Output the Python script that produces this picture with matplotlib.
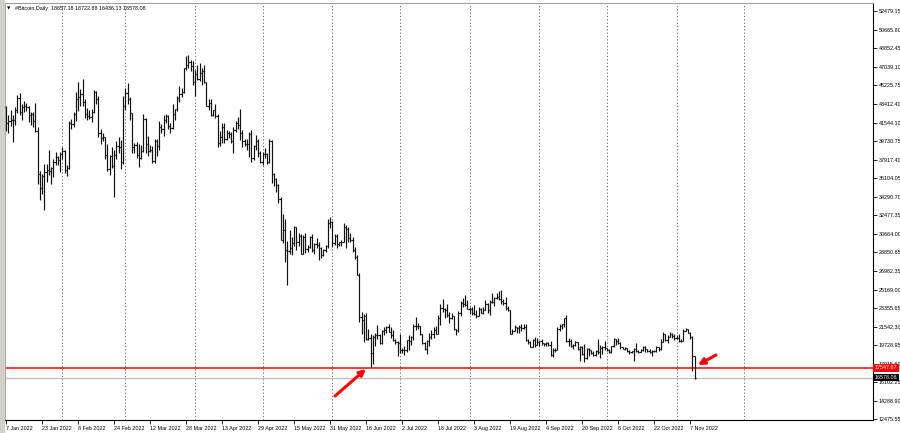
import matplotlib.pyplot as plt
import numpy as np
import pandas as pd
from matplotlib.patches import Rectangle

# daily OHLC, 7 Jan 2022 .. 9 Nov 2022 (one row of each list per month)
opens = [
    43100, 41550, 41700, 41850, 41820, 42740, 43920, 42590, 43100, 43180, 43100, 42250, 42370, 41670, 40700, 36470, 35100, 36280, 36700, 36950, 36850, 37140, 37700, 38150, 37900,
    38480, 38740, 36950, 37150, 41550, 41400, 42400, 43840, 44100, 44350, 43550, 42400, 42200, 42050, 42550, 44550, 43900, 40550, 40000, 40100, 38400, 37050, 38300, 37300, 38350, 39250, 39150, 37700,
    43200, 44400, 43900, 42450, 39150, 39400, 38400, 38050, 38750, 41950, 39450, 38800, 38900, 37800, 39700, 39300, 41150, 40950, 41800, 42200, 41250, 41000, 42400, 42900, 44000, 44350, 44550, 46850, 47150, 47450, 47100,
    45500, 46300, 45850, 46450, 46600, 45500, 43200, 43450, 42300, 42750, 42200, 39550, 40100, 41150, 39950, 40550, 40400, 39700, 40800, 41500, 41350, 40500, 39700, 39450, 39450, 40450, 38100, 39250, 39750, 38600,
    37650, 38450, 38500, 37700, 39700, 36550, 36000, 35450, 34050, 30100, 31000, 29050, 28950, 29300, 29800, 31300, 29850, 30400, 28700, 30300, 29200, 29400, 30300, 29100, 29650, 29550, 29250, 28600, 29050, 29450, 31700,
    31800, 29800, 30450, 29700, 29850, 29900, 31350, 31150, 30200, 30100, 29100, 28400, 26600, 22500, 22200, 22600, 20400, 20500, 19000, 20550, 20700, 20700, 19950, 21100, 21250, 21500, 21050, 20700, 20250, 20100,
    19950, 19250, 19250, 19300, 20250, 20200, 20550, 21600, 21600, 21600, 20850, 19950, 19350, 20200, 20600, 20850, 21200, 20800, 22450, 23400, 23250, 23150, 22700, 22450, 22600, 21300, 21250, 22950, 23850, 23800, 23650,
    23300, 23300, 22950, 22850, 22600, 23300, 22950, 23200, 23800, 23150, 23950, 23950, 24400, 24450, 24300, 24100, 23850, 23350, 23200, 20850, 21150, 21500, 21400, 21550, 21400, 21550, 20250, 20050, 19600, 20300, 19800,
    20050, 20150, 19950, 19850, 19950, 19800, 18800, 19300, 19300, 21350, 21650, 21800, 22400, 20200, 20200, 19700, 19800, 20100, 19400, 19550, 18900, 18500, 19400, 19300, 18950, 18800, 19200, 19100, 19450, 19550,
    19450, 19300, 19050, 19650, 20350, 20150, 19950, 19550, 19400, 19450, 19150, 19050, 19150, 19400, 19200, 19050, 19250, 19550, 19350, 19150, 19050, 19200, 19200, 19550, 19350, 20100, 20800, 20300, 20600, 20800, 20650,
    20500, 20500, 20150, 20200, 21150, 21300, 20900, 20600, 18657.18,
]
highs = [
    43150, 42300, 42800, 42250, 43100, 44300, 44400, 43400, 43700, 43500, 43200, 42600, 42600, 43500, 41100, 36800, 36500, 37500, 37500, 38900, 37200, 38000, 38700, 38300, 38700,
    39200, 38850, 37400, 41700, 41900, 42600, 44500, 45500, 44800, 45850, 43900, 43000, 42800, 42900, 44700, 44600, 44200, 40950, 40500, 40150, 39500, 38400, 39200, 38900, 39700, 40100, 39800, 44200,
    44900, 45400, 44100, 42500, 39600, 39650, 39500, 39400, 42400, 42000, 40200, 39400, 39300, 39900, 39900, 41700, 41400, 42300, 42400, 42300, 41500, 43400, 42900, 44200, 45100, 44900, 46900, 48100, 48200, 47700, 47600,
    46700, 47200, 47400, 46900, 47200, 45500, 43900, 43900, 42800, 43400, 42400, 40700, 41500, 41500, 40850, 40700, 40600, 41100, 41700, 42100, 42900, 40800, 39900, 39900, 40600, 40800, 39400, 40300, 39900, 38800,
    38700, 39100, 38600, 39900, 39800, 36650, 36100, 35500, 34250, 32600, 32100, 30000, 31000, 30300, 31400, 31300, 30700, 30600, 30500, 30700, 29600, 30400, 30600, 29800, 30200, 29850, 29400, 29200, 29600, 32100, 32300,
    31900, 30600, 30600, 29900, 30100, 31700, 31500, 31300, 30700, 30300, 29400, 28600, 26800, 23000, 22800, 22900, 21300, 20800, 20700, 20900, 21700, 20850, 21200, 21500, 21600, 21800, 21500, 21200, 20400, 20150,
    20850, 19450, 19650, 20300, 20700, 20650, 21800, 22500, 21950, 21600, 20850, 20050, 20250, 20900, 21200, 21550, 21650, 22700, 23750, 24250, 23400, 23750, 23000, 22950, 22650, 21300, 23100, 24100, 24400, 24650, 24150,
    23500, 23450, 23650, 23200, 23450, 23350, 23450, 24200, 23900, 24200, 24900, 24450, 24900, 25050, 25200, 24250, 24450, 23600, 23200, 21350, 21700, 21550, 21700, 21800, 21800, 21850, 20350, 20150, 20350, 20550, 20450,
    20200, 20400, 20000, 20050, 20050, 20150, 19450, 19450, 21550, 21800, 21800, 22450, 22700, 20500, 20350, 19900, 20200, 20100, 19650, 19650, 19900, 19500, 19450, 19300, 19150, 19300, 20350, 19750, 19650, 20150,
    19500, 19400, 19700, 20450, 20350, 20450, 20050, 19600, 19550, 19500, 19250, 19200, 19500, 19950, 19250, 19400, 19650, 19700, 19350, 19350, 19250, 19250, 19700, 19600, 20400, 21000, 20850, 20750, 21050, 20900, 20850,
    20700, 20800, 20400, 21300, 21450, 21350, 21000, 20650, 18722.88,
]
lows = [
    40700, 40500, 41250, 39650, 41300, 42500, 42300, 41800, 42600, 42700, 41600, 41300, 41100, 40600, 35500, 34000, 34600, 32950, 35700, 36400, 35500, 36200, 37400, 37400, 36700,
    38000, 36600, 36300, 37000, 40900, 41100, 41700, 42700, 43200, 43200, 42000, 41800, 41900, 41600, 42450, 43400, 40100, 39500, 39700, 38000, 36800, 36400, 37100, 34300, 38000, 38600, 37000, 37500,
    42800, 43400, 41800, 38600, 38600, 38100, 37200, 38000, 38700, 38600, 38300, 38700, 37600, 37600, 38300, 38900, 40500, 40200, 41500, 40900, 40500, 40900, 41800, 42700, 43600, 44100, 44400, 46700, 46900, 46600, 45200,
    44200, 45700, 45600, 45200, 45400, 43200, 42800, 42200, 42200, 42000, 39200, 39300, 39600, 39600, 39800, 40000, 39600, 38600, 40600, 40900, 39800, 39200, 39300, 38900, 38200, 37700, 37900, 38900, 38200, 37600,
    37400, 38100, 37500, 37600, 35600, 35300, 34800, 33700, 30100, 29800, 27900, 25600, 28700, 28600, 29500, 29100, 29500, 28700, 28700, 28800, 28900, 29300, 28900, 28700, 29300, 28100, 28300, 28500, 28900, 29300, 31200,
    29400, 29600, 29300, 29500, 29500, 29900, 29300, 29900, 29900, 28900, 28200, 26600, 22000, 20800, 20100, 20250, 20300, 17580, 17950, 19700, 20400, 19900, 19900, 20700, 20900, 21000, 20500, 20200, 19850, 18650,
    18950, 18950, 18800, 19050, 19300, 19800, 20250, 21200, 21350, 20700, 19900, 19250, 18900, 19650, 20400, 20500, 20800, 20800, 21700, 23000, 22400, 22500, 21950, 22300, 21250, 20750, 21050, 22600, 23450, 23550, 23250,
    22850, 22700, 22700, 22450, 22600, 22950, 22850, 23150, 22900, 22700, 23900, 23600, 24300, 24150, 23800, 23700, 23200, 23100, 20800, 20800, 21100, 20900, 20900, 21100, 21300, 20150, 19900, 19600, 19550, 19600, 19800,
    19650, 19800, 19700, 19650, 19650, 18650, 18550, 19050, 19300, 21100, 21350, 21550, 20100, 19650, 19550, 19350, 19700, 19300, 18250, 18800, 18150, 18400, 18650, 18850, 18650, 18700, 18850, 18500, 18900, 19250,
    19200, 18950, 19000, 19550, 19800, 19900, 19350, 19350, 19300, 19050, 18900, 18950, 18200, 19100, 18950, 19050, 19150, 19100, 19050, 18950, 18700, 19100, 19100, 19200, 19250, 20050, 20200, 20000, 20550, 20500, 20250,
    20350, 20050, 20050, 20200, 21100, 20900, 20400, 17200, 16436.13,
]
closes = [
    41550, 41700, 41850, 41820, 42740, 43920, 42590, 43100, 43180, 43100, 42250, 42370, 41670, 40700, 36470, 35100, 36280, 36700, 36950, 36850, 37140, 37700, 38150, 37900, 38480,
    38740, 36950, 37150, 41550, 41400, 42400, 43840, 44100, 44350, 43550, 42400, 42200, 42050, 42550, 44550, 43900, 40550, 40000, 40100, 38400, 37050, 38300, 37300, 38350, 39250, 39150, 37700, 43200,
    44400, 43900, 42450, 39150, 39400, 38400, 38050, 38750, 41950, 39450, 38800, 38900, 37800, 39700, 39300, 41150, 40950, 41800, 42200, 41250, 41000, 42400, 42900, 44000, 44350, 44550, 46850, 47150, 47450, 47100, 45500,
    46300, 45850, 46450, 46600, 45500, 43200, 43450, 42300, 42750, 42200, 39550, 40100, 41150, 39950, 40550, 40400, 39700, 40800, 41500, 41350, 40500, 39700, 39450, 39450, 40450, 38100, 39250, 39750, 38600, 37650,
    38450, 38500, 37700, 39700, 36550, 36000, 35450, 34050, 30100, 31000, 29050, 28950, 29300, 29800, 31300, 29850, 30400, 28700, 30300, 29200, 29400, 30300, 29100, 29650, 29550, 29250, 28600, 29050, 29450, 31700, 31800,
    29800, 30450, 29700, 29850, 29900, 31350, 31150, 30200, 30100, 29100, 28400, 26600, 22500, 22200, 22600, 20400, 20500, 19000, 20550, 20700, 20700, 19950, 21100, 21250, 21500, 21050, 20700, 20250, 20100, 19950,
    19250, 19250, 19300, 20250, 20200, 20550, 21600, 21600, 21600, 20850, 19950, 19350, 20200, 20600, 20850, 21200, 20800, 22450, 23400, 23250, 23150, 22700, 22450, 22600, 21300, 21250, 22950, 23850, 23800, 23650, 23300,
    23300, 22950, 22850, 22600, 23300, 22950, 23200, 23800, 23150, 23950, 23950, 24400, 24450, 24300, 24100, 23850, 23350, 23200, 20850, 21150, 21500, 21400, 21550, 21400, 21550, 20250, 20050, 19600, 20300, 19800, 20050,
    20150, 19950, 19850, 19950, 19800, 18800, 19300, 19300, 21350, 21650, 21800, 22400, 20200, 20200, 19700, 19800, 20100, 19400, 19550, 18900, 18500, 19400, 19300, 18950, 18800, 19200, 19100, 19450, 19550, 19450,
    19300, 19050, 19650, 20350, 20150, 19950, 19550, 19400, 19450, 19150, 19050, 19150, 19400, 19200, 19050, 19250, 19550, 19350, 19150, 19050, 19200, 19200, 19550, 19350, 20100, 20800, 20300, 20600, 20800, 20650, 20500,
    20500, 20150, 20200, 21150, 21300, 20900, 20600, 18657.18, 16578.08,
]
first_day = '2022-01-07'

price_ticks = [52479.15, 50665.80, 48852.45, 47039.10, 45225.75, 43412.40, 41544.10,
               39730.75, 37917.40, 36104.05, 34290.70, 32477.35, 30664.00, 28850.65,
               26982.35, 25169.00, 23355.65, 21542.30, 19728.95, 17915.60, 16102.25,
               14288.90, 12475.55]
date_labels = ['7 Jan 2022', '23 Jan 2022', '8 Feb 2022', '24 Feb 2022', '12 Mar 2022',
               '28 Mar 2022', '13 Apr 2022', '29 Apr 2022', '15 May 2022', '31 May 2022',
               '16 Jun 2022', '2 Jul 2022', '18 Jul 2022', '3 Aug 2022', '19 Aug 2022',
               '4 Sep 2022', '20 Sep 2022', '6 Oct 2022', '22 Oct 2022', '7 Nov 2022']
month_starts = ['2022-02-01', '2022-03-01', '2022-04-01', '2022-05-01', '2022-06-01',
                '2022-07-01', '2022-08-01', '2022-09-01', '2022-10-01', '2022-11-01',
                '2022-12-01']
support_level = 17547.67
last_price = 16578.08
header = '#Bitcoin,Daily  18657.18 18722.88 16436.13 16578.08'
# arrow annotations: (date, price) of tail and head
arrow1 = (('2022-06-02 05:00', 14775), ('2022-06-15 23:00', 17419))
arrow2 = (('2022-11-18 12:00', 18790), ('2022-11-10 12:00', 17811))

base = pd.Timestamp('2022-01-01')


def day(s):
    return (pd.Timestamp(s) - base) / pd.Timedelta(days=1)


n = len(closes)
assert len(opens) == len(highs) == len(lows) == n
x = (pd.date_range(first_day, periods=n) - base).days.values.astype(float)

plt.rcParams['font.family'] = ['Liberation Sans', 'DejaVu Sans']
fig = plt.figure(figsize=(9, 4.33), dpi=100)
fig.patches.append(Rectangle((0, 0), 4 / 900, 1, transform=fig.transFigure,
                             color='#d4d0c8', zorder=0))
ax = fig.add_axes([5 / 900, 13 / 433, 868 / 900, 417 / 433])

# month grid
for m in month_starts:
    ax.axvline(day(m), color='#555555', lw=0.6, ls=(0, (1.5, 2.5)), zorder=1)

ax.axhline(last_price, color='#c0c0c0', lw=1, zorder=2)
ax.axhline(support_level, color='#ff0000', lw=1.1, zorder=2)

# OHLC bars
ax.vlines(x, lows, highs, color='#111111', lw=0.85, zorder=3)
ax.hlines(opens, x - 0.5, x, color='#111111', lw=0.85, zorder=3)
ax.hlines(closes, x, x + 0.5, color='#111111', lw=0.85, zorder=3)

for tail, head in (arrow1, arrow2):
    ax.annotate('', xy=(day(head[0]), head[1]), xytext=(day(tail[0]), tail[1]),
                arrowprops=dict(arrowstyle='-|>', color='#ff0000', lw=2.2,
                                mutation_scale=9, shrinkA=0, shrinkB=0), zorder=4)

ax.set_xlim(5.53, 391.3)
ax.set_ylim(12424.6, 53262.6)

ax.yaxis.tick_right()
ax.set_yticks(price_ticks)
ax.set_yticklabels([f'{v:.2f}' for v in price_ticks])
ax.set_xticks([day(pd.to_datetime(s, format='%d %b %Y')) for s in date_labels])
ax.set_xticklabels(date_labels, ha='left')
ax.tick_params(axis='both', direction='out', length=3, width=0.6, labelsize=3.9,
               colors='black', pad=1.2)
ax.tick_params(axis='x', pad=1.5)
for side in ['right', 'bottom']:
    ax.spines[side].set_linewidth(0.8)
for side in ['left', 'top']:
    ax.spines[side].set_color('#a0a0a0')
    ax.spines[side].set_linewidth(0.8)

# price labels on the right scale
ax.text(1.002, support_level, f'{support_level:.2f}', transform=ax.get_yaxis_transform(),
        ha='left', va='center', fontsize=3.9, color='white', clip_on=False, zorder=10,
        bbox=dict(boxstyle='square,pad=0.25', fc='#ff0000', ec='none'))
ax.text(1.002, last_price, f'{last_price:.2f}', transform=ax.get_yaxis_transform(),
        ha='left', va='center', fontsize=3.9, color='white', clip_on=False, zorder=10,
        bbox=dict(boxstyle='square,pad=0.25', fc='black', ec='none'))

fig.text(7 / 900, 1 - 8.5 / 433, '\u25bc', fontsize=3.2, family='DejaVu Sans',
         va='center', ha='left')
fig.text(15 / 900, 1 - 8.5 / 433, header, fontsize=3.9, va='center', ha='left')

fig.savefig('out.png', dpi=100)
